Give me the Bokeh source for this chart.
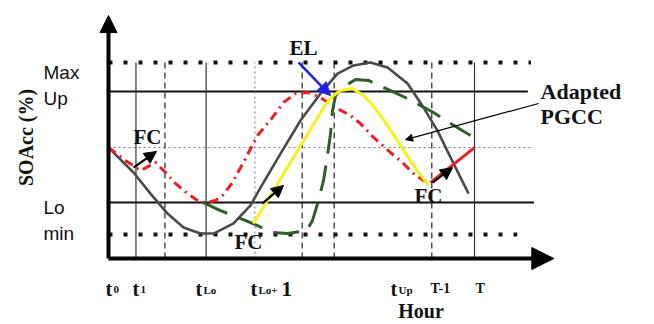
import math
from bokeh.plotting import figure
from bokeh.models import Range1d, Arrow, NormalHead, ColumnDataSource
from bokeh.core.properties import value
from bokeh.embed import file_html
from bokeh.resources import INLINE

# ---- reference levels (SOAcc %) ----
SOA_MAX, SOA_UP, SOA_MID, SOA_LO, SOA_MIN = 91.2, 77.7, 51.6, 26.0, 11.2
# ---- hour markers ----
H_T1, H_D1, H_TLO, H_TLO1, H_D2, H_D3, H_TM1, H_T = 1.8, 3.7, 6.4, 9.6, 12.7, 14.8, 21.2, 24.0

# horizontal reference lines: level, right end (hour)
hline_levels = [SOA_UP, SOA_LO]
hline_ends = [27.5, 27.9]
dotline_levels = [SOA_MAX, SOA_MIN]
dotline_ends = [27.7, 26.8]
mid_level = SOA_MID
mid_end = 27.7

# vertical lines
vsolid_h = [H_T1, H_TLO, H_T]
vdash_h = [H_D1, H_D2, H_D3, H_TM1]
vdot_h = [H_TLO1]

# ---- curves ----
gray_h = [0.0, 1.64, 2.75, 3.87, 4.92, 6.03, 6.89, 8.20, 9.31, 9.97, 11.28, 12.59,
          13.90, 15.02, 16.07, 17.18, 18.30, 19.61, 20.66, 21.57, 22.43, 23.61]
gray_v = [51.6, 40.0, 30.2, 20.9, 14.4, 11.6, 11.6, 16.3, 24.7, 33.0, 48.8, 64.2,
          76.7, 86.0, 89.8, 91.2, 88.8, 81.4, 70.2, 59.5, 47.0, 30.2]

red_h = [0.0, 1.11, 2.10, 2.75, 3.08, 3.41, 3.74, 4.39, 5.18, 5.84, 6.36, 7.02, 7.48,
         8.13, 8.98, 9.77, 10.75, 11.48, 12.26, 13.11, 13.90, 14.75, 15.87, 16.52,
         17.38, 18.49, 19.34, 20.0, 20.66, 21.11]
red_v = [51.6, 45.6, 40.9, 43.3, 44.7, 42.3, 40.0, 34.9, 30.2, 27.0, 26.0, 27.0, 29.3,
         35.3, 46.5, 57.2, 65.6, 72.6, 76.7, 77.2, 74.9, 70.7, 66.5, 62.8,
         56.3, 49.3, 44.2, 39.5, 36.3, 35.3]

red_end_h = [21.11, 24.0]
red_end_v = [35.3, 51.6]

green_h = [6.23, 7.34, 8.33, 9.77, 10.75, 11.74, 13.0, 13.38, 13.77, 14.10, 14.36,
           14.56, 14.69, 14.89, 15.34, 16.20, 17.05, 18.49, 19.61, 21.31, 22.10, 23.74]
green_v = [26.0, 22.3, 19.5, 15.3, 12.1, 11.6, 13.0, 17.7, 27.0, 36.3, 47.9,
           58.1, 68.8, 75.8, 79.5, 83.3, 82.8, 78.1, 74.4, 67.9, 64.2, 57.2]

yellow_h = [9.51, 14.23, 14.75, 15.21, 16.0, 16.72, 17.18, 18.16, 19.15, 20.13, 20.98]
yellow_v = [16.3, 71.6, 75.8, 78.1, 79.1, 75.8, 72.6, 63.3, 52.6, 41.9, 34.0]

# ---- annotations ----
fc_h0 = [1.64, 10.10, 21.25]
fc_v0 = [42.3, 25.6, 35.3]
fc_h1 = [3.15, 11.48, 22.56]
fc_v1 = [49.8, 34.0, 42.3]
fc_label_h = [2.56, 9.18, 20.98]
fc_label_v = [56.3, 7.9, 29.3]

el_h = [12.46, 14.56]
el_v = [91.2, 75.8]
el_label = (12.79, 97.7)

pgcc_h = [28.2, 19.48]
pgcc_v = [72.1, 55.3]
pgcc_lines = ["Adapted", "PGCC"]
pgcc_label_h = 28.33
pgcc_label_v = [77.7, 66.0]

# y labels
ylab_text = ["Max", "Up", "Lo", "min"]
ylab_v = [86.5, 74.4, 23.7, 11.6]
ylab_h = -4.26

# x tick labels
tick_main = ["t", "t", "t", "t", "t", "T-1", "T"]
tick_sub = ["0", "1", "Lo", "Lo+", "Up", "", ""]
tick_tail = ["", "", "", "1", "", "", ""]
tick_h = [-0.2, 1.57, 5.7, 9.31, 18.49, 21.11, 24.07]
tick_size = ["20px", "20px", "20px", "20px", "20px", "14px", "14px"]
tick_v = -14.0

axis_x_end = 29.2
axis_y_end = 113.0

SERIF = value("Liberation Serif")
SANS = value("Liberation Sans")

p = figure(width=654, height=324, output_backend="svg", toolbar_location=None,
           x_range=Range1d(-7.082, 35.803), y_range=Range1d(-30.70, 120.0),
           x_axis_type=None, y_axis_type=None, min_border=0)
p.outline_line_color = None
p.grid.visible = False

# reference lines
p.segment(x0=[0] * 2, y0=hline_levels, x1=hline_ends, y1=hline_levels,
          line_color="#111111", line_width=2)
p.segment(x0=[0] * 2, y0=dotline_levels, x1=dotline_ends, y1=dotline_levels,
          line_color="#111111", line_width=4, line_dash="4 11")
p.segment(x0=[0], y0=[mid_level], x1=[mid_end], y1=[mid_level],
          line_color="#777777", line_width=1, line_dash="2 3")
p.segment(x0=vsolid_h, y0=[0] * 3, x1=vsolid_h, y1=[SOA_MAX] * 3,
          line_color="#333333", line_width=1.2)
p.segment(x0=vdash_h, y0=[0] * 4, x1=vdash_h, y1=[SOA_MAX] * 4,
          line_color="#222222", line_width=1.2, line_dash="6 4")
p.segment(x0=vdot_h, y0=[0], x1=vdot_h, y1=[SOA_MAX],
          line_color="#777777", line_width=1, line_dash="2 3")

# curves
p.line(gray_h, gray_v, line_color="#4a4a4a", line_width=2.6, line_join="round")
p.line(red_h, red_v, line_color="#ee1c24", line_width=3, line_dash="9 5 2 5")
p.line(red_end_h, red_end_v, line_color="#ee1c24", line_width=3)
p.line(green_h, green_v, line_color="#2f5e2a", line_width=3, line_dash="26 12")
p.line(yellow_h, yellow_v, line_color="#f7f21a", line_width=3, line_join="round")

# axes arrows
p.add_layout(Arrow(x_start=0, y_start=0, x_end=0, y_end=axis_y_end, line_width=4,
                   end=NormalHead(size=17, fill_color="black", line_color="black")))
p.add_layout(Arrow(x_start=0, y_start=0, x_end=axis_x_end, y_end=0, line_width=4,
                   end=NormalHead(size=22, fill_color="black", line_color="black")))

# FC arrows
fc_src = ColumnDataSource(dict(x0=fc_h0, y0=fc_v0, x1=fc_h1, y1=fc_v1))
p.add_layout(Arrow(source=fc_src, x_start="x0", y_start="y0", x_end="x1", y_end="y1",
                   line_width=2.2, line_color="black",
                   end=NormalHead(size=12, fill_color="black", line_color="black")))
# EL arrow
p.add_layout(Arrow(x_start=el_h[0], y_start=el_v[0], x_end=el_h[1], y_end=el_v[1],
                   line_width=2.5, line_color="#1f1fe6",
                   end=NormalHead(size=13, fill_color="#1f1fe6", line_color="#1f1fe6")))
# PGCC arrow
p.add_layout(Arrow(x_start=pgcc_h[0], y_start=pgcc_v[0], x_end=pgcc_h[1], y_end=pgcc_v[1],
                   line_width=1.2, line_color="black",
                   end=NormalHead(size=7, fill_color="black", line_color="black")))

# texts
p.text(x=fc_label_h, y=fc_label_v, text=["FC"] * 3, text_font=SERIF,
       text_font_style="bold", text_font_size="21px", text_align="center",
       text_baseline="middle", text_color="#111111")
p.text(x=[el_label[0]], y=[el_label[1]], text=["EL"], text_font=SERIF,
       text_font_style="bold", text_font_size="21px", text_align="center",
       text_baseline="middle", text_color="#111111")
p.text(x=[pgcc_label_h] * 2, y=pgcc_label_v, text=pgcc_lines, text_font=SERIF,
       text_font_style="bold", text_font_size="22px", text_align="left",
       text_baseline="middle", text_color="#111111")
p.text(x=[ylab_h] * 4, y=ylab_v, text=ylab_text, text_font=SANS,
       text_font_size="19px", text_align="left", text_baseline="alphabetic",
       text_color="#111111")
p.text(x=[-5.44], y=[56.3], text=["SOAcc (%)"], text_font=SERIF,
       text_font_style="bold", text_font_size="20px", text_align="center",
       text_baseline="middle", angle=math.pi / 2, text_color="#111111")

tick_src = ColumnDataSource(dict(x=tick_h, y=[tick_v] * 7, main=tick_main, sub=tick_sub,
                                 tail=tick_tail, size=tick_size))
p.text(x="x", y="y", text="main", source=tick_src, text_font=SERIF,
       text_font_style="bold", text_font_size="size", text_align="left",
       text_baseline="alphabetic", text_color="#111111")
p.text(x="x", y="y", text="sub", source=tick_src, text_font=SERIF,
       text_font_style="bold", text_font_size="11px", text_align="left",
       text_baseline="alphabetic", x_offset=8, y_offset=1, text_color="#111111")
p.text(x="x", y="y", text="tail", source=tick_src, text_font=SERIF,
       text_font_style="bold", text_font_size="21px", text_align="left",
       text_baseline="alphabetic", x_offset=31, text_color="#111111")
p.text(x=[19.0], y=[-24.6], text=["Hour"], text_font=SERIF, text_font_style="bold",
       text_font_size="20px", text_align="left", text_baseline="alphabetic",
       text_color="#111111")

open("out.html", "w").write(file_html(p, INLINE))
